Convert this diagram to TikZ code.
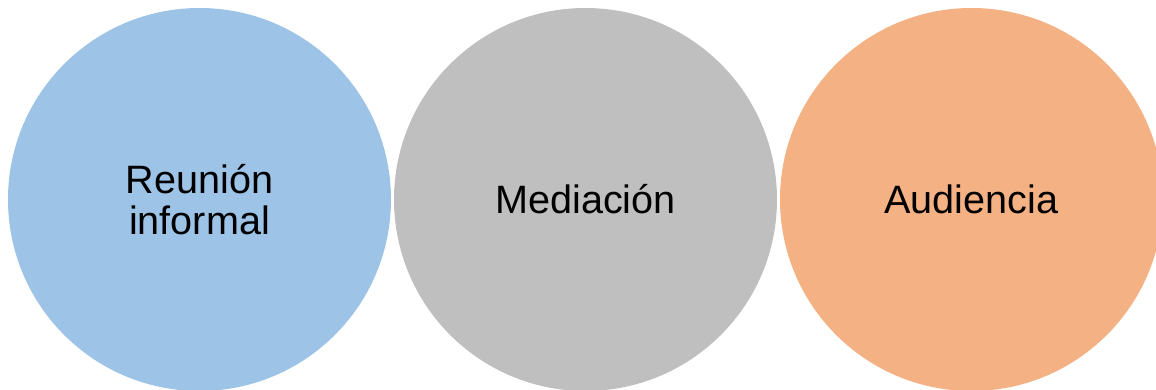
\documentclass[tikz,border=0pt]{standalone}
\usepackage{fontspec}
\setmainfont{Liberation Sans}
\usepackage{tikz}

\definecolor{azul}{HTML}{9DC3E6}
\definecolor{gris}{HTML}{BFBFBF}
\definecolor{naranja}{HTML}{F4B183}

\begin{document}
\begin{tikzpicture}
  [x=1bp,y=1bp,every node/.style={circle,minimum size=383bp,inner sep=0pt,align=center,
   font=\fontsize{39.6bp}{40.5bp}\selectfont}]
  \clip (0,0) rectangle (1156,389);
  \node[fill=azul] (reunion) at (199.5,189.5) {Reunión\\informal};
  \node[fill=gris] (mediacion) at (585.5,189.5) {Mediación};
  \node[fill=naranja] (audiencia) at (971.5,189.5) {Audiencia};

\end{tikzpicture}
\end{document}
